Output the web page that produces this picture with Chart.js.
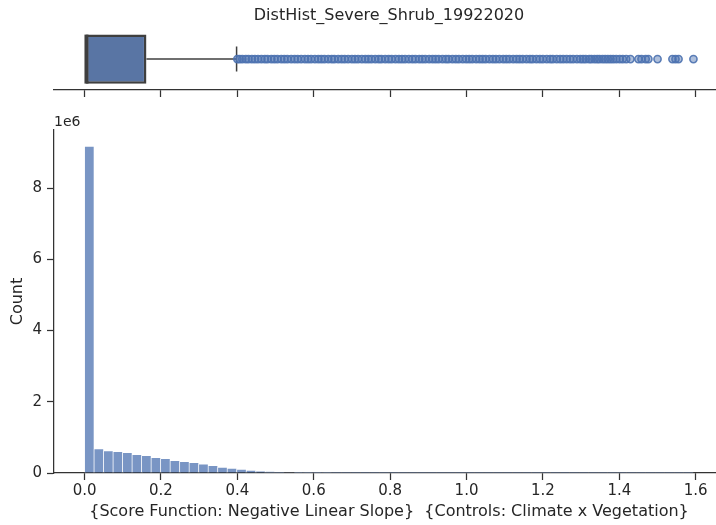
<!DOCTYPE html>
<html>
<head>
<meta charset="utf-8">
<script src="https://cdn.jsdelivr.net/npm/chart.js@4.4.0/dist/chart.umd.min.js"></script>
<style>
  html, body { margin: 0; padding: 0; background: #fff; }
  #wrap { position: relative; width: 716px; height: 525px; overflow: hidden; }
  #wrap canvas { position: absolute; left: 0; }
</style>
</head>
<body>
<div id="wrap">
  <canvas id="hist-chart" width="730" height="525" style="top:0"></canvas>
  <canvas id="box-chart" width="730" height="98" style="top:0"></canvas>
</div>
<script>
// histogram bins (Count per bin, bin width in score units)
const binWidth = 0.0249;
const histCounts = [9170000, 680000, 622000, 598000, 570000, 515000, 488000, 435000, 405000, 350000,
  320000, 294000, 246000, 210000, 160000, 131000, 104000, 76000, 56000, 38000,
  30000, 14000, 9000, 6000, 4200, 3100, 2300, 1700, 1300, 1000,
  800, 650, 520, 430, 360, 300, 250, 210, 180, 150,
  130, 110, 95, 80, 70, 60, 50, 44, 38, 32,
  27, 23, 19, 16, 13, 11, 9, 7, 6, 5, 4, 3, 2, 1];

// box plot summary
const boxQ1 = 0.003;
const boxMedian = 0.005;
const boxQ3 = 0.162;
const whiskerHigh = 0.398;
const outliers = [0.400, 0.406, 0.413, 0.422, 0.429, 0.438, 0.446, 0.454, 0.463, 0.472, 0.479, 0.489,
  0.497, 0.505, 0.515, 0.523, 0.531, 0.541, 0.550, 0.558, 0.567, 0.577, 0.585, 0.593, 0.603, 0.612,
  0.620, 0.628, 0.638, 0.647, 0.654, 0.664, 0.673, 0.681, 0.690, 0.700, 0.708, 0.716, 0.726, 0.735,
  0.743, 0.751, 0.761, 0.770, 0.777, 0.787, 0.796, 0.804, 0.814, 0.823, 0.831, 0.839, 0.849, 0.858,
  0.866, 0.876, 0.884, 0.892, 0.902, 0.911, 0.919, 0.927, 0.937, 0.946, 0.953, 0.963, 0.972, 0.980,
  0.990, 0.999, 1.007, 1.015, 1.025, 1.034, 1.042, 1.050, 1.060, 1.069, 1.077, 1.086, 1.096, 1.104,
  1.112, 1.122, 1.131, 1.139, 1.147, 1.157, 1.166, 1.173, 1.183, 1.192, 1.200, 1.210, 1.219, 1.226,
  1.236, 1.245, 1.253, 1.262, 1.271, 1.279, 1.289, 1.298, 1.305, 1.312, 1.321, 1.327, 1.335, 1.342,
  1.348, 1.356, 1.363, 1.370, 1.377, 1.384, 1.392, 1.401, 1.409, 1.418, 1.429, 1.450, 1.458, 1.469,
  1.476, 1.500, 1.539, 1.547, 1.555, 1.594];

const xTicks = [0, 0.2, 0.4, 0.6, 0.8, 1.0, 1.2, 1.4, 1.6];
const yTicks = [0, 2e6, 4e6, 6e6, 8e6];
const xMin = -0.08;
const xMax = 1.674;
const yMax = 9.63e6;

const ink = '#262626';
const spine = '#333333';
const boxEdge = '#3f3f3f';
const blue = '76, 114, 176';

Chart.defaults.font.family = "'DejaVu Sans', sans-serif";
Chart.defaults.color = ink;
Chart.defaults.animation = false;

const xAxisBase = {
  type: 'linear',
  min: xMin,
  max: xMax,
  offset: false,
  afterBuildTicks: axis => { axis.ticks = xTicks.map(v => ({ value: v })); },
  grid: { drawOnChartArea: false, drawTicks: true, tickLength: 7, tickColor: spine, tickWidth: 1.25, offset: false },
  border: { display: true, color: spine, width: 1.25 }
};

// ---- histogram ----
const scaleLabel = {
  id: 'scaleLabel',
  afterDraw(chart) {
    const { ctx, chartArea } = chart;
    ctx.save();
    ctx.font = "14px 'DejaVu Sans', sans-serif";
    ctx.fillStyle = ink;
    ctx.textAlign = 'left';
    ctx.textBaseline = 'alphabetic';
    ctx.fillText('1e6', chartArea.left, chartArea.top - 4);
    ctx.restore();
  }
};

new Chart(document.getElementById('hist-chart'), {
  type: 'bar',
  data: {
    datasets: [{
      data: histCounts.map((c, i) => ({ x: (i + 0.5) * binWidth, y: c })),
      backgroundColor: `rgba(${blue}, 0.75)`,
      borderColor: 'rgba(255, 255, 255, 0.7)',
      borderWidth: 0.7,
      barPercentage: 1,
      categoryPercentage: 1
    }]
  },
  options: {
    responsive: false,
    layout: { autoPadding: false, padding: { top: 130, right: 6, left: 0, bottom: 0 } },
    plugins: { legend: { display: false }, tooltip: { enabled: false } },
    scales: {
      x: {
        ...xAxisBase,
        afterFit: s => { s.height = 52; },
        ticks: { font: { size: 15 }, padding: 2, maxRotation: 0, callback: v => v.toFixed(1) },
        title: {
          display: true,
          text: '{Score Function: Negative Linear Slope}  {Controls: Climate x Vegetation}',
          font: { size: 16 },
          padding: { top: 0, bottom: 4 }
        }
      },
      y: {
        type: 'linear',
        min: 0,
        max: yMax,
        afterBuildTicks: axis => { axis.ticks = yTicks.map(v => ({ value: v })); },
        afterFit: s => { s.width = 54; },
        grid: { drawOnChartArea: false, drawTicks: true, tickLength: 7, tickColor: spine, tickWidth: 1.25 },
        border: { display: true, color: spine, width: 1.25 },
        ticks: { font: { size: 15 }, padding: 5, callback: v => String(v / 1e6) },
        title: { display: true, text: 'Count', font: { size: 16 }, padding: { top: 8, bottom: 0 } }
      }
    }
  },
  plugins: [scaleLabel]
});

// ---- box plot ----
new Chart(document.getElementById('box-chart'), {
  type: 'bar',
  data: {
    labels: ['box'],
    datasets: [
      {
        type: 'line',
        data: [{ x: boxMedian, y: 'box' }],
        showLine: false,
        pointStyle: 'line',
        rotation: 90,
        pointRadius: 24.5,
        pointBorderWidth: 4,
        pointBorderColor: boxEdge,
        order: 1
      },
      {
        type: 'line',
        data: outliers.map(v => ({ x: v, y: 'box' })),
        showLine: false,
        pointStyle: 'circle',
        pointRadius: 3.6,
        pointBorderWidth: 1.6,
        pointBackgroundColor: `rgba(${blue}, 0.45)`,
        pointBorderColor: `rgba(${blue}, 0.9)`,
        order: 2
      },
      {
        type: 'line',
        data: [{ x: whiskerHigh, y: 'box' }],
        showLine: false,
        pointStyle: 'line',
        rotation: 90,
        pointRadius: 12.5,
        pointBorderWidth: 1.5,
        pointBorderColor: boxEdge,
        order: 3
      },
      {
        type: 'line',
        data: [{ x: boxQ3, y: 'box' }, { x: whiskerHigh, y: 'box' }],
        borderColor: boxEdge,
        borderWidth: 1.5,
        pointRadius: 0,
        order: 4
      },
      {
        data: [[boxQ1, boxQ3]],
        backgroundColor: '#5975a4',
        borderColor: boxEdge,
        borderWidth: 2.5,
        borderSkipped: false,
        barPercentage: 0.8,
        categoryPercentage: 1,
        order: 5
      }
    ]
  },
  options: {
    responsive: false,
    indexAxis: 'y',
    layout: { autoPadding: false, padding: { top: 0, right: 6, left: 54, bottom: 0 } },
    plugins: {
      legend: { display: false },
      tooltip: { enabled: false },
      title: {
        display: true,
        text: 'DistHist_Severe_Shrub_19922020',
        color: ink,
        font: { size: 16, weight: 'normal' },
        padding: { top: 6, bottom: 3 }
      }
    },
    scales: {
      x: {
        ...xAxisBase,
        afterFit: s => { s.height = 8; },
        ticks: { display: false }
      },
      y: { type: 'category', display: false, offset: true }
    }
  }
});
</script>
</body>
</html>
